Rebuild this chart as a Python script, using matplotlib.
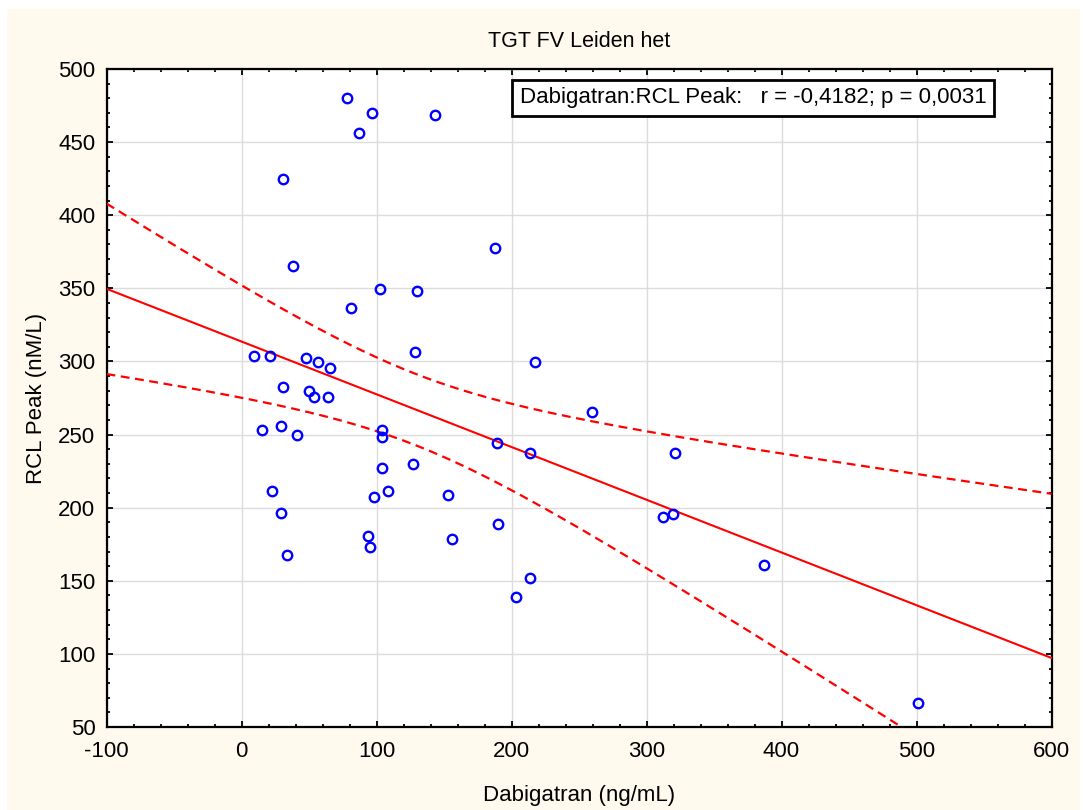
import numpy as np
import matplotlib
matplotlib.use("Agg")
import matplotlib.pyplot as plt
from matplotlib.patches import Rectangle
from matplotlib.ticker import MultipleLocator

plt.rcParams['font.family'] = ['Liberation Sans', 'DejaVu Sans']

# Dabigatran (ng/mL) vs RCL Peak (nM/L)
dabigatran = [77.9, 96.4, 87.0, 143.7, 30.5, 38.2, 81.1, 102.5, 130.1, 188.0,
              9.2, 21.4, 47.6, 56.5, 65.8, 128.4, 217.1, 30.6, 50.3, 53.7,
              64.1, 259.9, 15.3, 29.1, 41.4, 104.0, 104.0, 189.6, 213.9, 321.1,
              103.8, 126.7, 22.9, 108.6, 97.9, 152.8, 29.1, 189.7, 311.9, 319.8,
              93.4, 94.9, 155.9, 33.8, 213.9, 203.5, 386.7, 501.4]
rcl_peak = [480.0, 470.1, 456.0, 468.8, 424.6, 365.3, 336.6, 349.4, 348.0, 377.8,
            304.0, 304.0, 302.6, 299.9, 295.3, 306.7, 299.7, 282.8, 280.0, 275.5,
            275.5, 265.7, 252.9, 255.7, 249.9, 252.9, 248.4, 244.5, 237.2, 237.2,
            227.2, 230.1, 211.7, 211.7, 207.4, 208.9, 196.2, 189.1, 193.5, 195.9,
            180.5, 173.2, 178.8, 167.7, 152.2, 139.2, 160.5, 66.7]

x = np.array(dabigatran)
y = np.array(rcl_peak)
n = len(x)

# linear fit + 95% confidence band of the mean
b, a = np.polyfit(x, y, 1)
xs = np.linspace(-100, 600, 300)
yfit = a + b * xs
resid = y - (a + b * x)
s = np.sqrt(np.sum(resid ** 2) / (n - 2))
sxx = np.sum((x - x.mean()) ** 2)
t = 2.0129  # t(0.975, 46)
half = t * s * np.sqrt(1.0 / n + (xs - x.mean()) ** 2 / sxx)

fig = plt.figure(figsize=(10.83, 8.10), dpi=100, facecolor='white')
fig.patches.append(Rectangle((7 / 1083, 0), 1073 / 1083, 801 / 810,
                             transform=fig.transFigure, facecolor='#fff9ee',
                             edgecolor='none', zorder=-10))
ax = fig.add_axes([106.5 / 1083, 1 - 727 / 810, 945 / 1083, 658 / 810])
ax.set_facecolor('white')

ax.plot(xs, yfit, color='#ff0000', lw=1.5, zorder=3)
ax.plot(xs, yfit + half, color='#ff0000', lw=1.6, ls=(0, (4, 2.5)), zorder=3)
ax.plot(xs, yfit - half, color='#ff0000', lw=1.6, ls=(0, (4, 2.5)), zorder=3)
ax.plot(x, y, 'o', mfc='none', mec='#0000ff', mew=1.7, ms=6.8, zorder=4, clip_on=False)

ax.set_xlim(-100, 600)
ax.set_ylim(50, 500)
ax.xaxis.set_major_locator(MultipleLocator(100))
ax.xaxis.set_minor_locator(MultipleLocator(20))
ax.yaxis.set_major_locator(MultipleLocator(50))
ax.yaxis.set_minor_locator(MultipleLocator(10))
ax.tick_params(which='both', direction='in', top=True, right=True, width=1.3,
               labelsize=16)
ax.tick_params(axis='x', which='both', pad=10)
ax.tick_params(axis='y', which='both', pad=8)
ax.tick_params(which='major', length=4)
ax.tick_params(which='minor', length=2.5)
ax.grid(True, which='major', color='#dcdcdc', lw=1)
ax.set_axisbelow(True)
for sp in ax.spines.values():
    sp.set_linewidth(1.6)
ax.xaxis.set_major_formatter(lambda v, p: f'{v:.0f}')
ax.yaxis.set_major_formatter(lambda v, p: f'{v:.0f}')

ax.set_title('TGT FV Leiden het', fontsize=15.5, pad=16)
ax.set_xlabel('Dabigatran (ng/mL)', fontsize=16, labelpad=17)
ax.set_ylabel('RCL Peak (nM/L)', fontsize=16, labelpad=8)

ax.text(0.684, 0.956, 'Dabigatran:RCL Peak:   r = -0,4182; p = 0,0031',
        transform=ax.transAxes, ha='center', va='center', fontsize=16, zorder=5,
        bbox=dict(boxstyle='square,pad=0.35', facecolor='white', edgecolor='black', lw=2))

fig.savefig('out.png', dpi=100, facecolor=fig.get_facecolor())
